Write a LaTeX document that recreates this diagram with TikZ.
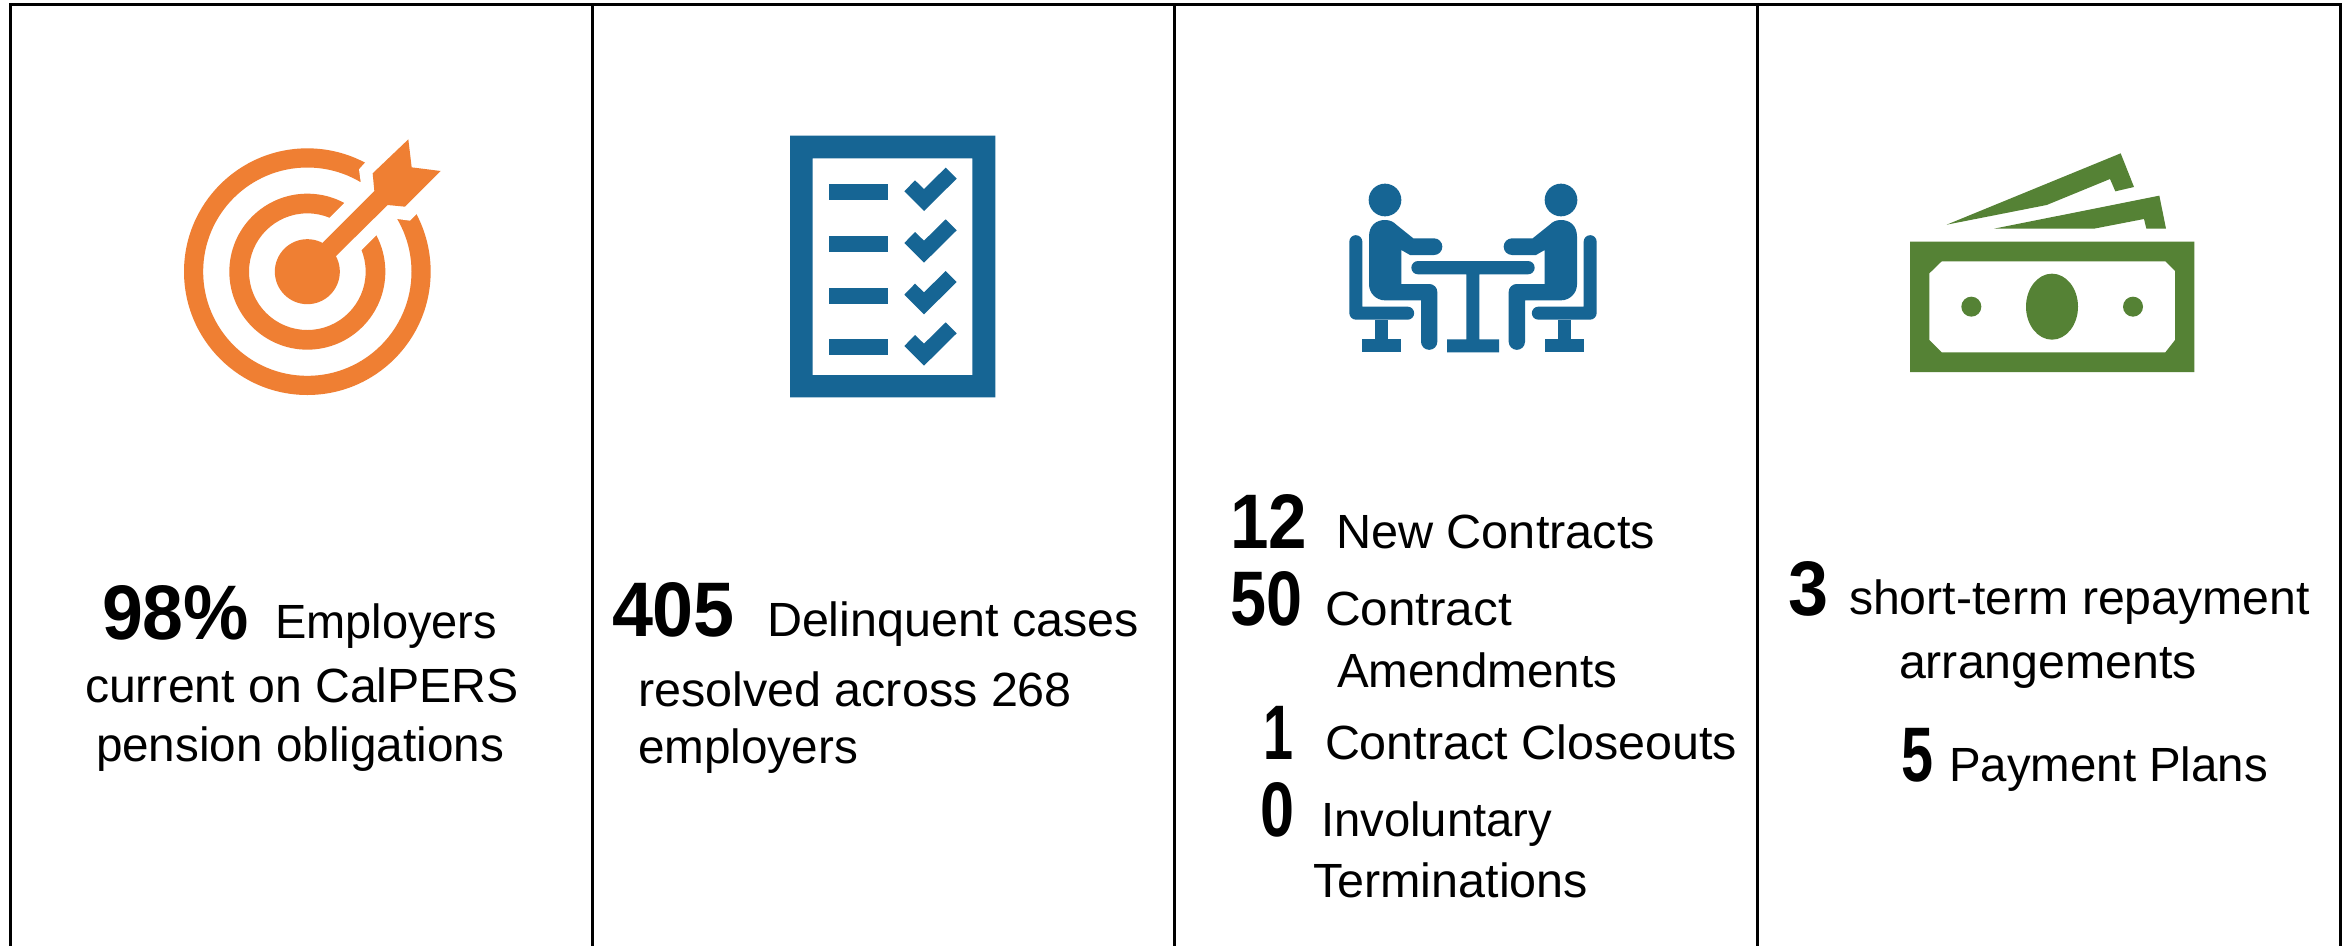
\documentclass[tikz,border=0pt]{standalone}
\usepackage{graphicx}
\usepackage{fontspec}
\setmainfont{Liberation Sans}
\newfontfamily\bignum[FakeStretch=0.93]{Liberation Sans}
\definecolor{iconorange}{HTML}{EF7F33}
\definecolor{iconblue}{HTML}{166594}
\definecolor{icongreen}{HTML}{558235}
\newcommand{\seatedperson}{%
  \fill (165,90) circle (49);
  \fill (117,200) .. controls (117,165) and (140,150) .. (165,150)
    .. controls (180,150) and (190,155) .. (200,165) -- (250,205) -- (312,205)
    arc[start angle=-90,end angle=90,radius=25] -- (240,255) -- (214,240) -- (214,342) -- (298,342)
    arc[start angle=-90,end angle=0,radius=24] -- (322,515)
    arc[start angle=0,end angle=180,radius=24.5] -- (273,391) -- (165,391)
    arc[start angle=90,end angle=180,radius=48] -- cycle;
  \fill (58,215) arc[start angle=-180,end angle=0,radius=19.5] -- (97,410) -- (233,410)
    arc[start angle=-90,end angle=90,radius=19.5] -- (78,449)
    arc[start angle=90,end angle=180,radius=20] -- cycle;
  \fill (136,449) rectangle (175,510);
  \fill (97,508) rectangle (214,547);
}
% text line stretched to the width, in reference pixels, that it has in the picture
\newcommand{\fitw}[2]{\resizebox{#1\dimexpr 0.75pt\relax}{\height}{#2}}
\tikzset{
  rule/.style={line width=2.25pt, black},
  body/.style={anchor=base west, inner sep=0pt, outer sep=0pt, font=\fontsize{36}{36}\selectfont},
  big/.style={anchor=base west, inner sep=0pt, outer sep=0pt, font=\fontsize{58}{58}\selectfont\bignum\bfseries},
}
\begin{document}
\begin{tikzpicture}[x=0.75pt,y=-0.75pt]
\useasboundingbox (0,0) rectangle (2346,946);
\fill[white] (0,0) rectangle (2346,946);
% frame
\coordinate (tl) at (10.3,4.6); \coordinate (tr) at (2340,4.6);
\coordinate (bl) at (10.3,946); \coordinate (br) at (2340,946);
\coordinate (d1t) at (592.7,4.6); \coordinate (d1b) at (592.7,946);
\coordinate (d2t) at (1174.5,4.6); \coordinate (d2b) at (1174.5,946);
\coordinate (d3t) at (1757.3,4.6); \coordinate (d3b) at (1757.3,946);
\draw[rule] (bl) -- (tl) -- (tr) -- (br);
\draw[rule] (d1t) -- (d1b);
\draw[rule] (d2t) -- (d2b);
\draw[rule] (d3t) -- (d3b);
% target
\begin{scope}[shift={(150,110)},x=0.25pt,y=-0.25pt]
  \fill[iconorange,even odd rule] (472,485) circle (370) (472,485) circle (312.5)
     (472,485) circle (234) (472,485) circle (175);
  \fill[iconorange] (472,485) circle (97.5);
  \fill[white] (645,158) -- (760,40) -- (920,100) -- (800,312) -- (780,332) -- (742,327) -- (680,375)
     -- (637,418) -- (600,455) -- (500,360) -- (540,322) -- (582,280) -- (632,215) -- (627,178) -- cycle;
  \fill[iconorange] (775,88) -- (785,172) -- (872,183) -- (765,290) -- (713,285) -- (558,438)
     -- (500,470) -- (518,398) -- (673,243) -- (668,190) -- cycle;
\end{scope}
% checklist
\begin{scope}[shift={(770,120)},x=0.25pt,y=-0.25pt]
  \fill[iconblue,even odd rule] (60,47) rectangle (676,832) (128,115) rectangle (607,765);
  \foreach \dy in {0,155,310,464}{
    \fill[iconblue] (177,193+\dy) rectangle (354,241+\dy);
    \fill[iconblue] (403,214+\dy) -- (435,181+\dy) -- (462,207+\dy) -- (527,143+\dy) -- (560,176+\dy) -- (462,273+\dy) -- cycle;
  }
\end{scope}
% meeting
\begin{scope}[shift={(1330,170)},x=0.25pt,y=-0.25pt,iconblue]
  \seatedperson
  \fill (264,273) -- (594,273) arc[start angle=-90,end angle=90,radius=20] -- (448,313) -- (448,508)
     -- (507,508) -- (507,547) -- (351,547) -- (351,508) -- (409,508) -- (409,313) -- (264,313)
     arc[start angle=90,end angle=270,radius=20] -- cycle;
\end{scope}
\begin{scope}[shift={(1616,170)},x=-0.25pt,y=-0.25pt,iconblue]
  \seatedperson
\end{scope}
% money
\begin{scope}[shift={(1890,140)},x=0.25pt,y=-0.25pt]
  \fill[icongreen,even odd rule] (60,305) rectangle (913,696)
    (155,364) -- (826,364) -- (855,393) -- (855,600) -- (826,637) -- (155,637) -- (118,600) -- (118,400) -- cycle;
  \fill[icongreen] (486,500) ellipse [x radius=78,y radius=99];
  \fill[icongreen] (244,500) circle (30) (729,500) circle (30);
  \fill[icongreen] (170,254) -- (692,40) -- (732,141) -- (676,154) -- (660,117) -- (470,195) -- cycle;
  \fill[icongreen] (312,266) -- (808,167) -- (828,266) -- (769,266) -- (762,237) -- (612,266) -- cycle;
\end{scope}
% column 1
\node[big]  (a1) at (102,639) {\fitw{147}{98\%}};
\node[body] (a2) at (275,638) {\fitw{222}{Employers}};
\node[body] (a3) at (85,702)  {\fitw{434}{current on CalPERS}};
\node[body] (a4) at (96,761)  {\fitw{408}{pension obligations}};
% column 2
\node[big]  (b1) at (612,636) {\fitw{123}{405}};
\node[body] (b2) at (767,636) {\fitw{372}{Delinquent cases}};
\node[body] (b3) at (638,706) {\fitw{434}{resolved across 268}};
\node[body] (b4) at (638,763) {\fitw{220}{employers}};
% column 3
\node[big]  (c1) at (1230,548) {\fitw{77}{12}};
\node[body] (c2) at (1336,548) {\fitw{319}{New Contracts}};
\node[big]  (c3) at (1230,625) {\fitw{72}{50}};
\node[body] (c4) at (1325,625) {\fitw{187}{Contract}};
\node[body] (c5) at (1337,687) {\fitw{280}{Amendments}};
\node[big]  (c6) at (1263,759) {\fitw{30}{1}};
\node[body] (c7) at (1325,759) {\fitw{412}{Contract Closeouts}};
\node[big]  (c8) at (1260,836) {\fitw{34}{0}};
\node[body] (c9) at (1321,836) {\fitw{231}{Involuntary}};
\node[body] (c10) at (1313,897) {\fitw{275}{Terminations}};
% column 4
\node[big]  (d1) at (1788,615) {3};
\node[body] (d2) at (1849,614) {\fitw{461}{short-term repayment}};
\node[body] (d3) at (1899,678) {\fitw{298}{arrangements}};
\node[big]  (d4) at (1901,781) {\fitw{32}{5}};
\node[body] (d5) at (1949,781) {\fitw{319}{Payment Plans}};
\end{tikzpicture}
\end{document}
